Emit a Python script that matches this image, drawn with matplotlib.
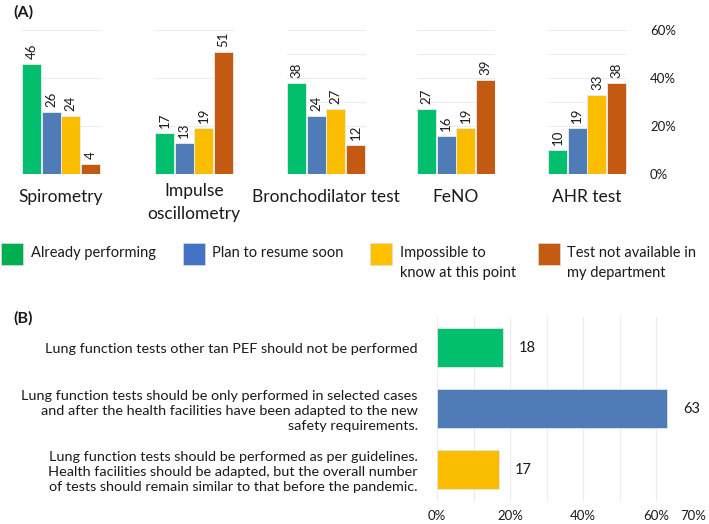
import matplotlib
matplotlib.use("Agg")
import matplotlib.pyplot as plt
from matplotlib.patches import Rectangle

plt.rcParams["font.family"] = ["Lato", "DejaVu Sans"]

W, H = 709, 524

# panel A data (% of respondents)
tests = ["Spirometry", "Impulse\noscillometry", "Bronchodilator test", "FeNO", "AHR test"]
status = ["Already performing", "Plan to resume soon",
          "Impossible to\nknow at this point", "Test not available in\nmy department"]
already = [46, 17, 38, 27, 10]
resume = [26, 13, 24, 16, 19]
unknown = [24, 19, 27, 19, 33]
not_avail = [4, 51, 12, 39, 38]

# panel B data
opinions = [
    "Lung function tests other tan PEF should not be performed",
    "Lung function tests should be only performed in selected cases\n"
    "and after the health facilities have been adapted to the new\n"
    "safety requirements.",
    "Lung function tests should be performed as per guidelines.\n"
    "Health facilities should be adapted, but the overall number\n"
    "of tests should remain similar to that before the pandemic.",
]
opinion_pct = [18, 63, 17]

BAR_COLORS = ["#02bf6e", "#4f7cb6", "#fbbd00", "#c45911"]
LEGEND_COLORS = ["#00b050", "#4472c4", "#ffc000", "#c55a11"]
TEXT = "#1a1a1a"
GRID = "#ececec"


def box(left, top, width, height):
    return [left / W, 1 - (top + height) / H, width / W, height / H]


fig = plt.figure(figsize=(W / 100, H / 100), dpi=100)

fig.text(13 / W, 1 - 12 / H, "(A)", fontsize=11.5, fontweight="bold", va="center", color=TEXT)
fig.text(13 / W, 1 - 318 / H, "(B)", fontsize=11.5, fontweight="bold", va="center", color=TEXT)

lefts = [21.5, 154.5, 286.5, 416.5, 547.5]
for i, test in enumerate(tests):
    ax = fig.add_axes(box(lefts[i], 30, 79, 144))
    vals = [already[i], resume[i], unknown[i], not_avail[i]]
    ax.bar(range(4), vals, width=0.95, color=BAR_COLORS, edgecolor="#e8eef0", linewidth=0.6, zorder=2)
    for x, v in enumerate(vals):
        ax.annotate(str(v), (x, v), xytext=(0, 5), textcoords="offset pixels",
                    rotation=90, ha="center", va="bottom", fontsize=9.5, color=TEXT)
    ax.set_xlim(-0.5, 3.5)
    ax.set_ylim(0, 60)
    ax.set_xticks([])
    ax.set_yticks([0, 20, 40, 60])
    if i >= 2:
        ax.set_yticks([10, 30, 50], minor=True)
    ax.grid(axis="y", which="both", color=GRID, linewidth=0.8, zorder=0)
    ax.tick_params(axis="y", which="both", length=0)
    for s in ax.spines.values():
        s.set_visible(False)
    if i == len(tests) - 1:
        ax.yaxis.tick_right()
        ax.set_yticklabels([f"{t}%" for t in (0, 20, 40, 60)])
        ax.tick_params(axis="y", pad=17, labelsize=9.5, labelcolor=TEXT)
    else:
        ax.set_yticklabels([])
    if "\n" in test:
        ax.annotate(test, (0.5, 0), xycoords="axes fraction", xytext=(0, -9),
                    textcoords="offset pixels", ha="center", va="top",
                    fontsize=12.5, linespacing=1.55, color=TEXT)
    else:
        ax.annotate(test, (0.5, 0), xycoords="axes fraction", xytext=(0, -23),
                    textcoords="offset pixels", ha="center", va="center",
                    fontsize=12.5, color=TEXT)

# legend
sq_x = [1, 183, 370, 538]
txt_x = [31, 212, 400, 567]
for i, lab in enumerate(status):
    fig.patches.append(Rectangle((sq_x[i] / W, 1 - 265 / H), 22 / W, 22 / H,
                                 transform=fig.transFigure, facecolor=LEGEND_COLORS[i],
                                 edgecolor="#dddddd", linewidth=0.5))
    fig.text(txt_x[i] / W, 1 - 246 / H, lab, fontsize=10.5, va="top", ha="left",
             linespacing=1.5, color=TEXT)

# panel B
axb = fig.add_axes(box(437, 317, 256, 183.5))
axb.barh(range(3), opinion_pct, height=0.64, color=BAR_COLORS[:3], edgecolor="#dfe6ea",
         linewidth=0.6, zorder=2)
for y, v in enumerate(opinion_pct):
    axb.annotate(str(v), (v, y), xytext=(16, 0), textcoords="offset pixels",
                 ha="left", va="center", fontsize=10.5, color=TEXT)
axb.set_ylim(2.5, -0.5)
axb.set_xlim(0, 70)
axb.set_xticks([0, 20, 40, 60, 70])
axb.set_xticklabels([f"{t}%" for t in (0, 20, 40, 60, 70)])
axb.set_xticks([10, 30, 50], minor=True)
axb.grid(axis="x", which="both", color=GRID, linewidth=0.8, zorder=0)
axb.set_yticks(range(3))
axb.set_yticklabels(opinions, fontsize=10.4, linespacing=1.3, color=TEXT)
axb.tick_params(axis="y", length=0, pad=14)
axb.tick_params(axis="x", which="both", length=0, pad=7, labelsize=9.5, labelcolor=TEXT)
for s in axb.spines.values():
    s.set_visible(False)

fig.savefig("out.png", dpi=100)
